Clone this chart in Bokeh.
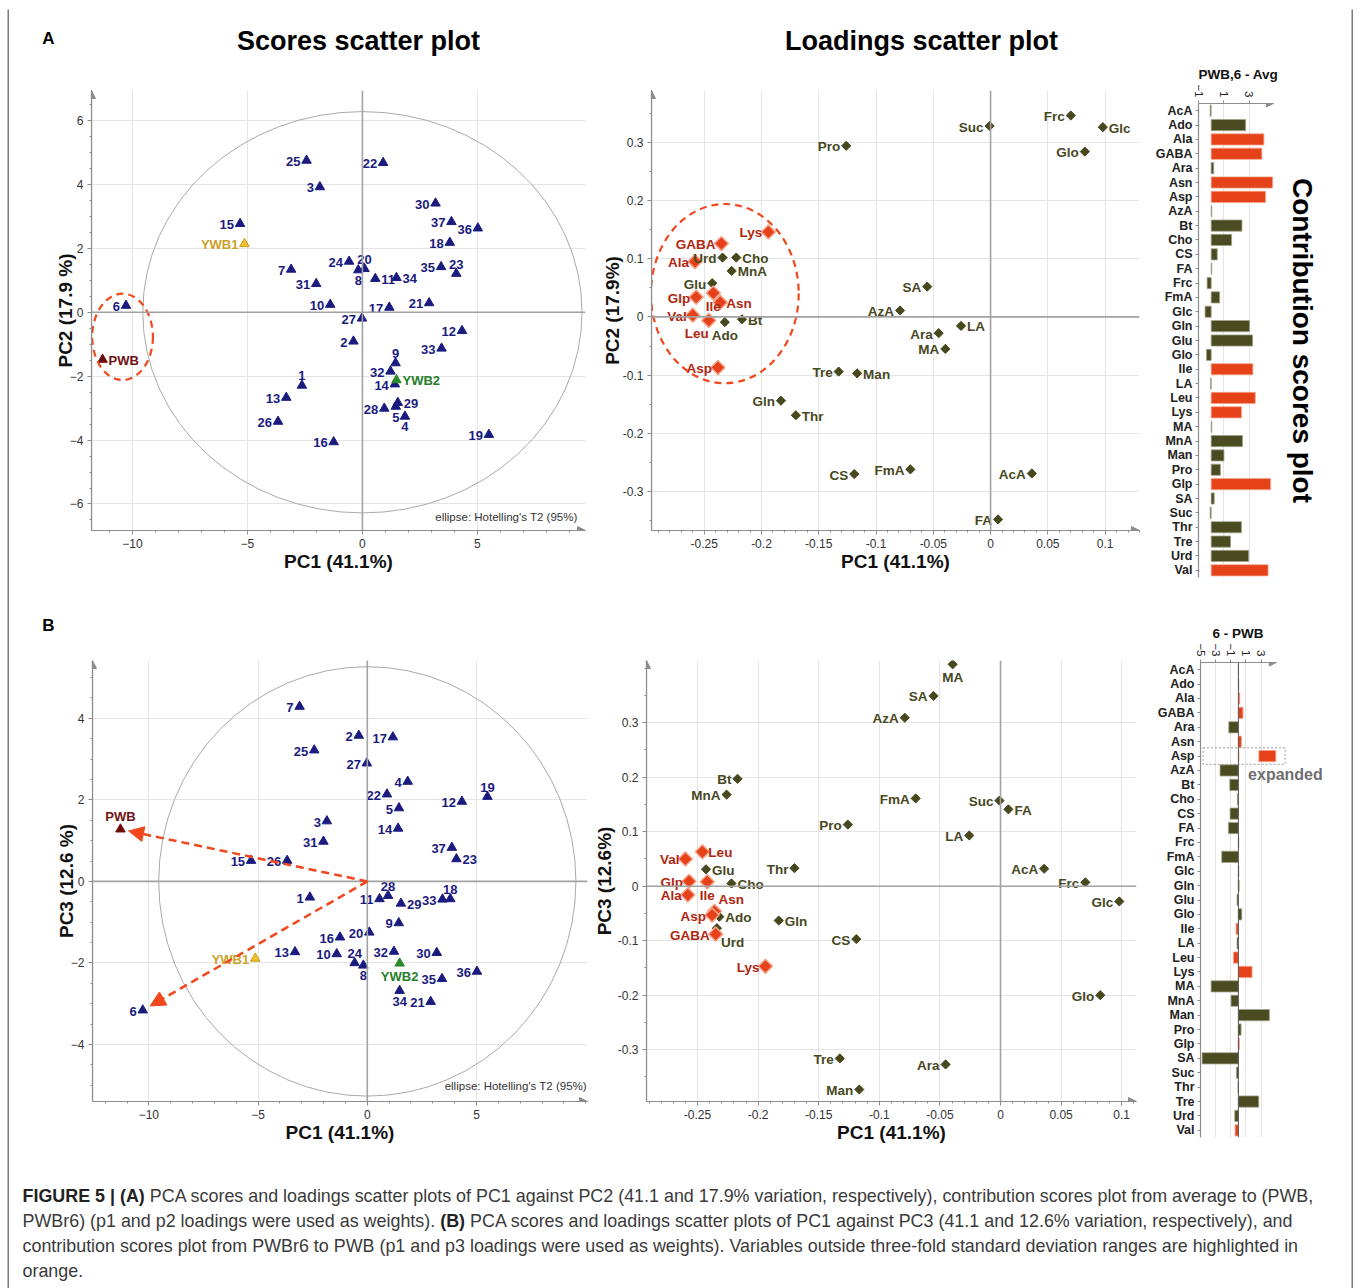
import math

from bokeh.core.properties import value
from bokeh.embed import file_html
from bokeh.layouts import column, row
from bokeh.models import (Arrow, ColumnDataSource, FactorRange, FixedTicker, NormalHead,
                          NumeralTickFormatter, Range1d, Spacer, Span)
from bokeh.plotting import figure
from bokeh.resources import INLINE

# ------------------------------------------------------------------ data
samples = [str(i) for i in range(1, 38)] + ["PWB", "YWB1", "YWB2"]
t1 = [-2.63, -0.39, -1.85, 1.85, 1.45, -10.28, -3.10, -0.18, 1.44, -1.40,
      0.56, 4.33, -3.31, 1.41, -5.32, -1.25, 1.17, 3.80, 5.50, 0.09,
      2.90, 0.90, 4.08, -0.58, -2.43, -3.67, -0.02, 0.95, 1.54, 3.18,
      -2.01, 1.22, 3.44, 1.48, 3.42, 5.02, 3.87, -11.30, -5.13, 1.48]
t2 = [-2.29, -0.91, 3.92, -3.26, -2.95, 0.21, 1.34, 1.32, -1.59, 0.24,
      1.05, -0.58, -2.67, -2.25, 2.77, -4.06, 0.15, 2.18, -3.83, 1.36,
      0.29, 4.68, 1.21, 1.59, 4.75, -3.42, -0.19, -3.01, -2.83, 3.41,
      0.89, -1.85, -1.13, 1.08, 1.42, 2.63, 2.83, -1.48, 2.14, -2.12]
t3 = [-0.39, 3.58, 1.48, 2.45, 1.80, -3.16, 4.29, -2.06, -1.02, -1.78,
      -0.43, 1.96, -1.73, 1.30, 0.51, -1.37, 3.54, -0.43, 2.08, -1.25,
      -2.95, 2.14, 0.55, -2.00, 3.22, 0.51, 2.90, -0.35, -0.54, -1.75,
      0.98, -1.72, -0.44, -2.68, -2.39, -2.21, 0.83, 1.28, -1.89, -2.01]

# Hotelling's T2 (95%) ellipse semi-axes
t2_ellipse_pc12 = (9.55, 6.28)
t2_ellipse_pc13 = (9.55, 5.27)

metabolites = ["AcA", "Ado", "Ala", "GABA", "Ara", "Asn", "Asp", "AzA", "Bt", "Cho",
               "CS", "FA", "Frc", "FmA", "Glc", "Gln", "Glu", "Glo", "Ile", "LA",
               "Leu", "Lys", "MA", "MnA", "Man", "Pro", "Glp", "SA", "Suc", "Thr",
               "Tre", "Urd", "Val"]
p1 = [0.036, -0.232, -0.258, -0.235, -0.0453, -0.236, -0.238, -0.079, -0.217, -0.222,
      -0.119, 0.0065, 0.070, -0.070, 0.098, -0.183, -0.243, 0.0823, -0.242, -0.0258,
      -0.246, -0.194, -0.0395, -0.226, -0.1165, -0.126, -0.257, -0.0553, -0.0009, -0.170,
      -0.1326, -0.234, -0.260]
p2 = [-0.269, -0.009, 0.095, 0.126, -0.028, 0.025, -0.087, 0.011, -0.004, 0.102,
      -0.270, -0.348, 0.346, -0.262, 0.326, -0.144, 0.058, 0.284, 0.041, -0.0155,
      -0.006, 0.146, -0.055, 0.079, -0.097, 0.294, 0.034, 0.052, 0.328, -0.169,
      -0.094, 0.102, 0.003]
p3 = [0.032, -0.056, -0.016, -0.088, -0.327, -0.046, -0.053, 0.309, 0.197, 0.005,
      -0.097, 0.141, 0.007, 0.161, -0.028, -0.063, 0.031, -0.200, 0.008, 0.093,
      0.063, -0.147, 0.407, 0.168, -0.373, 0.113, 0.009, 0.349, 0.157, 0.033,
      -0.316, -0.077, 0.050]
highlighted = ["Ala", "GABA", "Asn", "Asp", "Ile", "Leu", "Lys", "Glp", "Val"]

contrib_avg = [-0.08, 2.72, 4.16, 4.00, 0.20, 4.85, 4.29, 0.05, 2.43, 1.61,
               0.48, 0.05, -0.32, 0.67, -0.48, 3.03, 3.27, -0.37, 3.29, -0.05,
               3.48, 2.39, 0.05, 2.47, 1.01, 0.73, 4.69, 0.24, -0.08, 2.39,
               1.53, 2.96, 4.49]
contrib_6_pwb = [0.02, 0.05, 0.18, 0.60, -1.27, 0.40, 0.08, -2.42, -1.14, -0.13,
                 -1.10, -1.32, 0.05, -2.20, 0.06, 0.10, -0.18, 0.44, -0.31, -0.18,
                 -0.66, 1.80, -3.60, -0.97, 4.09, 0.35, 0.13, -4.79, -0.26, -0.05,
                 2.68, -0.48, -0.44]

scores_ticks_x = [-10, -5, 0, 5]
scores_ticks_y_a = [-6, -4, -2, 0, 2, 4, 6]
scores_ticks_y_b = [-4, -2, 0, 2, 4]
loading_ticks_x = [-0.25, -0.2, -0.15, -0.1, -0.05, 0, 0.05, 0.1]
loading_ticks_y = [-0.3, -0.2, -0.1, 0, 0.1, 0.2, 0.3]
contrib_ticks_a = [-1, 1, 3]
contrib_ticks_b = [-5, -3, -1, 1, 3]

caption_lines = [
    [("FIGURE 5 | (A)", True),
     (" PCA scores and loadings scatter plots of PC1 against PC2 (41.1 and 17.9% variation, "
      "respectively), contribution scores plot from average to (PWB,", False)],
    [("PWBr6) (p1 and p2 loadings were used as weights). ", False), ("(B)", True),
     (" PCA scores and loadings scatter plots of PC1 against PC3 (41.1 and 12.6% variation, "
      "respectively), and", False)],
    [("contribution scores plot from PWBr6 to PWB (p1 and p3 loadings were used as weights). "
      "Variables outside three-fold standard deviation ranges are highlighted in", False)],
    [("orange.", False)],
]

# ------------------------------------------------------------------ styles
FONT = "Liberation Sans"
AX = "#8c8c8c"
GRID = "#e4e4e4"
ZERO = "#a2a2a2"
NAVY = "#1b1b7f"
OLIVE = "#48481e"
RED = "#e5421a"
RED_TXT = "#b0260f"
RED_EDGE = "#f5a58c"
DASH_RED = "#f2471c"
BORDER = "#7b7b7b"

SAMPLE_FILL = {"PWB": "#6f0d0d", "YWB1": "#f0c030", "YWB2": "#2b8a2b"}
SAMPLE_LINE = {"PWB": "#6f0d0d", "YWB1": "#c79a12", "YWB2": "#2b8a2b"}
SAMPLE_TEXT = {"PWB": "#6f1212", "YWB1": "#caa128", "YWB2": "#24802a"}

LABEL_SPECS = {
    "l": dict(text_align="right", text_baseline="middle", x_offset=-6, y_offset=1),
    "r": dict(text_align="left", text_baseline="middle", x_offset=6, y_offset=1),
    "t": dict(text_align="center", text_baseline="bottom", x_offset=0, y_offset=-5),
    "b": dict(text_align="center", text_baseline="top", x_offset=0, y_offset=6),
    "bl": dict(text_align="right", text_baseline="top", x_offset=0, y_offset=6),
    "tr": dict(text_align="left", text_baseline="bottom", x_offset=4, y_offset=-4),
    "br": dict(text_align="left", text_baseline="top", x_offset=4, y_offset=7),
}
scores_a_sides = {"11": "r", "34": "r", "29": "r", "PWB": "r", "YWB2": "r",
                  "1": "t", "9": "t", "20": "t", "23": "t", "4": "b", "5": "b", "8": "b"}
scores_b_sides = {"23": "r", "29": "r", "19": "t", "28": "t", "18": "t", "24": "t",
                  "PWB": "t", "8": "b", "34": "b", "YWB2": "b"}
load_a_sides = {"Glc": "r", "Cho": "r", "MnA": "r", "Asn": "r", "Bt": "r", "LA": "r",
                "Man": "r", "Thr": "r", "Ile": "b", "Ado": "b", "Leu": "bl"}
load_b_sides = {"MA": "b", "FA": "r", "Leu": "r", "Glu": "r", "Cho": "r", "Ado": "r",
                "Gln": "r", "Ile": "b", "Asn": "tr", "Urd": "br"}


def base_fig(w, h, xr, yr, borders, **kw):
    l, r, t, b = borders
    p = figure(width=w, height=h, x_range=xr, y_range=yr, toolbar_location=None,
               output_backend="svg", min_border_left=l, min_border_right=r,
               min_border_top=t, min_border_bottom=b, outline_line_color=None,
               background_fill_color="white", border_fill_color="white", **kw)
    return p


def canvas(w, h, fill="white"):
    p = figure(width=w, height=h, x_range=Range1d(0, w), y_range=Range1d(h, 0),
               x_axis_type=None, y_axis_type=None, toolbar_location=None,
               output_backend="svg", min_border=0, outline_line_color=None,
               background_fill_color=fill, border_fill_color=fill, title=None)
    return p


def style_axes(p, xticks, xminor, yticks, yminor, xlabel, ylabel, ylabel_standoff, fmt=None):
    p.xaxis.ticker = FixedTicker(ticks=xticks, minor_ticks=xminor)
    p.yaxis.ticker = FixedTicker(ticks=yticks, minor_ticks=yminor)
    if fmt:
        p.xaxis.formatter = NumeralTickFormatter(format=fmt)
        p.yaxis.formatter = NumeralTickFormatter(format=fmt)
    p.xaxis.axis_label = xlabel
    p.yaxis.axis_label = ylabel
    for ax in p.axis:
        ax.axis_line_color = AX
        ax.axis_line_width = 1.2
        ax.major_tick_line_color = AX
        ax.major_tick_in = 0
        ax.major_tick_out = 4
        ax.minor_tick_line_color = AX
        ax.minor_tick_in = 0
        ax.minor_tick_out = 2
        ax.major_label_text_font = FONT
        ax.major_label_text_font_size = "12px"
        ax.major_label_text_color = "#333333"
        ax.major_label_standoff = 4
        ax.axis_label_text_font = FONT
        ax.axis_label_text_font_style = "bold"
        ax.axis_label_text_font_size = "19px"
        ax.axis_label_text_color = "#111111"
    p.xaxis.axis_label_standoff = 0
    p.yaxis.axis_label_standoff = ylabel_standoff
    p.xgrid.grid_line_color = GRID
    p.ygrid.grid_line_color = GRID


def axis_arrows(p, x0, x1, y0, y1):
    for xs, ys, xe, ye in [(x0, y0, x1, y0), (x0, y0, x0, y1)]:
        p.add_layout(Arrow(end=NormalHead(size=8, fill_color=AX, line_color=AX, line_width=1),
                           x_start=xs, y_start=ys, x_end=xe, y_end=ye,
                           line_color=AX, line_width=1.2))


def zero_lines(p):
    p.add_layout(Span(location=0, dimension="height", line_color=ZERO, line_width=1.6))
    p.add_layout(Span(location=0, dimension="width", line_color=ZERO, line_width=1.6))


def point_labels(p, xs, ys, names, sides, color_of, size):
    groups = {}
    for x, y, n in zip(xs, ys, names):
        groups.setdefault(sides.get(n, "l"), []).append((x, y, n))
    for side, items in groups.items():
        src = ColumnDataSource(dict(x=[i[0] for i in items], y=[i[1] for i in items],
                                    label=[i[2] for i in items],
                                    tcolor=[color_of(i[2]) for i in items]))
        p.text(x="x", y="y", text="label", source=src, text_color="tcolor",
               text_font=value(FONT), text_font_style="bold", text_font_size=size,
               **LABEL_SPECS[side])


def scores_panel(w, h, borders, xr, yr, ys, yticks, ylabel, t2_axes, sides, note_xy):
    p = base_fig(w, h, Range1d(*xr), Range1d(*yr), borders, title=None)
    style_axes(p, scores_ticks_x, list(range(-12, 11)), yticks,
               [v / 2 for v in range(-14, 15)], "PC1 (41.1%)", ylabel, -9)
    zero_lines(p)
    axis_arrows(p, xr[0], xr[1], yr[0], yr[1])
    p.ellipse(x=[0], y=[0], width=[2 * t2_axes[0]], height=[2 * t2_axes[1]],
              fill_color=None, line_color="#a9a9a9", line_width=1)
    p.text(x=[note_xy[0]], y=[note_xy[1]], text=["ellipse: Hotelling's T2 (95%)"],
           text_align="right", text_baseline="middle", text_font=value(FONT),
           text_font_size="11.5px", text_color="#333333")
    src = ColumnDataSource(dict(x=t1, y=ys, name=samples,
                                fill=[SAMPLE_FILL.get(s, NAVY) for s in samples],
                                line=[SAMPLE_LINE.get(s, NAVY) for s in samples]))
    p.scatter(x="x", y="y", source=src, marker="triangle", size=9.5,
              fill_color="fill", line_color="line", line_width=1)
    point_labels(p, t1, ys, samples, sides, lambda s: SAMPLE_TEXT.get(s, NAVY), "13px")
    return p


def loadings_panel(w, h, borders, xr, yr, ys, ylabel, sides, ylabel_standoff):
    p = base_fig(w, h, Range1d(*xr), Range1d(*yr), borders, title=None)
    style_axes(p, loading_ticks_x, [v / 100 for v in range(-30, 14)], loading_ticks_y,
               [v / 100 for v in range(-40, 42, 5)], "PC1 (41.1%)", ylabel, ylabel_standoff,
               fmt="0.[00]")
    zero_lines(p)
    axis_arrows(p, xr[0], xr[1], yr[0], yr[1])
    normal = [i for i, m in enumerate(metabolites) if m not in highlighted]
    hot = [i for i, m in enumerate(metabolites) if m in highlighted]
    p.scatter(x=[p1[i] for i in normal], y=[ys[i] for i in normal], marker="square",
              angle=math.pi / 4, size=6.5, fill_color=OLIVE, line_color=OLIVE)
    p.scatter(x=[p1[i] for i in hot], y=[ys[i] for i in hot], marker="square",
              angle=math.pi / 4, size=10, fill_color=RED, line_color=RED_EDGE, line_width=1.5)
    point_labels(p, p1, ys, metabolites, sides,
                 lambda m: RED_TXT if m in highlighted else OLIVE, "13.5px")
    return p


def contribution_panel(w, h, borders, vals, ticks, xr, axis_max, heading, heading_offset):
    p = base_fig(w, h, Range1d(*xr), FactorRange(factors=list(reversed(metabolites))),
                 borders, x_axis_location="above", title=heading)
    p.title.text_font = FONT
    p.title.text_font_style = "bold"
    p.title.text_font_size = "13.5px"
    p.title.text_color = "#111111"
    p.title.align = "left"
    p.title.offset = heading_offset
    p.title.standoff = 0
    p.xaxis.ticker = FixedTicker(ticks=ticks)
    p.xaxis.bounds = (xr[0], axis_max)
    p.xaxis.major_label_orientation = -math.pi / 2
    for ax in p.axis:
        ax.axis_line_color = AX
        ax.axis_line_width = 1.2
        ax.major_tick_line_color = AX
        ax.major_tick_in = 0
        ax.major_tick_out = 3
        ax.minor_tick_line_color = None
        ax.major_label_text_font = FONT
        ax.major_label_text_color = "#222222"
        ax.major_label_standoff = 3
    p.xaxis.major_label_text_font_size = "11.5px"
    p.yaxis.major_label_text_font_size = "12.5px"
    p.yaxis.major_label_text_font_style = "bold"
    p.xgrid.grid_line_color = GRID
    p.ygrid.grid_line_color = None
    p.add_layout(Arrow(end=NormalHead(size=7, fill_color=AX, line_color=AX, line_width=1),
                       x_start=xr[0], y_start=len(metabolites), x_end=axis_max,
                       y_end=len(metabolites), line_color=AX, line_width=1.2))
    src = ColumnDataSource(dict(y=metabolites, right=vals,
                                fill=[RED if m in highlighted else "#4b4b22" for m in metabolites],
                                edge=[RED_EDGE if m in highlighted else "#a3a38c" for m in metabolites]))
    p.hbar(y="y", left=0, right="right", height=0.78, source=src,
           fill_color="fill", line_color="edge", line_width=0.8)
    return p


# ------------------------------------------------------------------ panel A
scores_a = scores_panel(581, 536, (82, 5, 26, 70), (-11.78, 9.70), (-6.83, 6.94), t2,
                        scores_ticks_y_a, "PC2 (17.9 %)", t2_ellipse_pc12, scores_a_sides,
                        (9.35, -6.4))
scores_a.ellipse(x=[-10.43], y=[-0.77], width=[2.64], height=[2.70], fill_color=None,
                 line_color=DASH_RED, line_dash="7 5", line_width=2.2)

load_a = loadings_panel(560, 536, (61, 11, 26, 70), (-0.296, 0.130), (-0.367, 0.389), p2,
                        "PC2 (17.9%)", load_a_sides, -3)
load_a.ellipse(x=[-0.232], y=[0.040], width=[0.129], height=[0.308], fill_color=None,
               line_color=DASH_RED, line_dash="7 5", line_width=2.2)

bars_a = contribution_panel(201, 536, (48, 6, 38, 23), contrib_avg, contrib_ticks_a,
                            (-1, 10.60), 4.9, "PWB,6 - Avg", 0)
bars_a.text(x=[7.21], y=["Glu"], text=["Contribution scores plot"], angle=-math.pi / 2,
            text_align="center", text_baseline="middle", text_font=value(FONT),
            text_font_style="bold", text_font_size="28px", text_color="#000000")

# ------------------------------------------------------------------ panel B
scores_b = scores_panel(581, 524, (83, 3, 24, 59), (-12.58, 10.08), (-5.40, 5.42), t3,
                        scores_ticks_y_b, "PC3 (12.6 %)", t2_ellipse_pc13, scores_b_sides,
                        (10.05, -5.03))
shrink = 0.967
for name in ["PWB", "6"]:
    k = samples.index(name)
    scores_b.add_layout(Arrow(end=NormalHead(size=15, fill_color=DASH_RED, line_color=DASH_RED),
                              x_start=0, y_start=0, x_end=shrink * t1[k], y_end=shrink * t3[k],
                              line_color=DASH_RED, line_width=2.5, line_dash="8 5"))

load_b = loadings_panel(560, 524, (56, 14, 24, 59), (-0.2921, 0.1122), (-0.395, 0.414), p3,
                        "PC3 (12.6%)", load_b_sides, 0)

bars_b = contribution_panel(201, 560, (50, 6, 62, 23), contrib_6_pwb, contrib_ticks_b,
                            (-5, 14.13), 5.0, "6 - PWB", 12)
bars_b.add_layout(Span(location=0, dimension="height", line_color="#555555", line_width=1))
EXPANDED_AT, EXPAND = 2.7, 28
asp = contrib_6_pwb[metabolites.index("Asp")]
bars_b.rect(x=[0.75], y=["Asp"], width=[10.82], height=[1.15], fill_color=None,
            line_color="#9a9a9a", line_dash="2 2", line_width=1)
bars_b.hbar(y=["Asp"], left=[EXPANDED_AT], right=[EXPANDED_AT + EXPAND * asp], height=0.78,
            fill_color=RED, line_color=RED_EDGE, line_width=0.8)
bars_b.text(x=[1.28], y=["AzA"], text=["expanded"], text_baseline="middle", y_offset=4,
            text_font=value(FONT), text_font_style="bold", text_font_size="16px",
            text_color="#6e6e6e")

# ------------------------------------------------------------------ headings
header_a = canvas(1342, 55)
for x, txt, size in [(39, "A", "17px"), (349, "Scores scatter plot", "27px"),
                     (912, "Loadings scatter plot", "27px")]:
    header_a.text(x=[x], y=[29 if txt == "A" else 31], text=[txt], text_align="center",
                  text_baseline="middle", text_font=value(FONT), text_font_style="bold",
                  text_font_size=size, text_color="#000000")
header_b = canvas(1141, 36)
header_b.text(x=[39], y=[25], text=["B"], text_align="center", text_baseline="middle",
              text_font=value(FONT), text_font_style="bold", text_font_size="17px",
              text_color="#000000")

# ------------------------------------------------------------------ caption
HELV = {' ': 278, '!': 278, '%': 889, "'": 191, '(': 333, ')': 333, ',': 278, '-': 333,
        '.': 278, '/': 278, ':': 278, ';': 278, '|': 260,
        'A': 667, 'B': 667, 'C': 722, 'D': 722, 'E': 667, 'F': 611, 'G': 778, 'H': 722,
        'I': 278, 'J': 500, 'K': 667, 'L': 556, 'M': 833, 'N': 722, 'O': 778, 'P': 667,
        'Q': 778, 'R': 722, 'S': 667, 'T': 611, 'U': 722, 'V': 667, 'W': 944, 'X': 667,
        'Y': 667, 'Z': 611,
        'a': 556, 'b': 556, 'c': 500, 'd': 556, 'e': 556, 'f': 278, 'g': 556, 'h': 556,
        'i': 222, 'j': 222, 'k': 500, 'l': 222, 'm': 833, 'n': 556, 'o': 556, 'p': 556,
        'q': 556, 'r': 333, 's': 500, 't': 278, 'u': 556, 'v': 500, 'w': 722, 'x': 500,
        'y': 500, 'z': 500}
HELV_BOLD = {' ': 278, '|': 280, '(': 333, ')': 333, 'A': 722, 'B': 722, 'E': 667,
             'F': 611, 'G': 778, 'I': 278, 'R': 722, 'U': 722}


def em_width(s, bold):
    table = HELV_BOLD if bold else HELV
    return sum(table.get(ch, 556) for ch in s) / 1000.0


cap_size = 1292 / sum(em_width(t, b) for t, b in caption_lines[0])
caption = canvas(1342, 128)
for li, runs in enumerate(caption_lines):
    x = 13.0
    y = 35 + 25 * li
    for txt, bold in runs:
        lead = len(txt) - len(txt.lstrip(" "))
        x += em_width(" " * lead, bold) * cap_size
        body = txt.strip(" ")
        caption.text(x=[x], y=[y], text=[body], text_align="left", text_baseline="middle",
                     text_font=value(FONT), text_font_style="bold" if bold else "normal",
                     text_font_size=f"{cap_size:.2f}px",
                     text_color="#222222" if bold else "#3a3a3a")
        x += em_width(body, bold) * cap_size
        x += em_width(" " * (len(txt) - len(txt.rstrip(" "))), bold) * cap_size

# ------------------------------------------------------------------ page
# each plot sits in its own column so neighbouring frames are not aligned
content = column(
    header_a,
    row(column(scores_a), column(load_a), column(bars_a), spacing=0),
    row(column(header_b, row(column(scores_b), column(load_b), spacing=0), spacing=0),
        column(bars_b), spacing=0),
    caption,
    spacing=0,
)
top_line = canvas(1346, 2, BORDER)
left_line = canvas(2, 1279, BORDER)
right_line = canvas(2, 1279, BORDER)
page = column(
    Spacer(width=1353, height=7),
    row(Spacer(width=7, height=1281),
        column(top_line, row(left_line, content, right_line, spacing=0), spacing=0),
        spacing=0),
    spacing=0,
)

open("out.html", "w").write(file_html(page, INLINE, title="PCA scores, loadings and contributions"))
